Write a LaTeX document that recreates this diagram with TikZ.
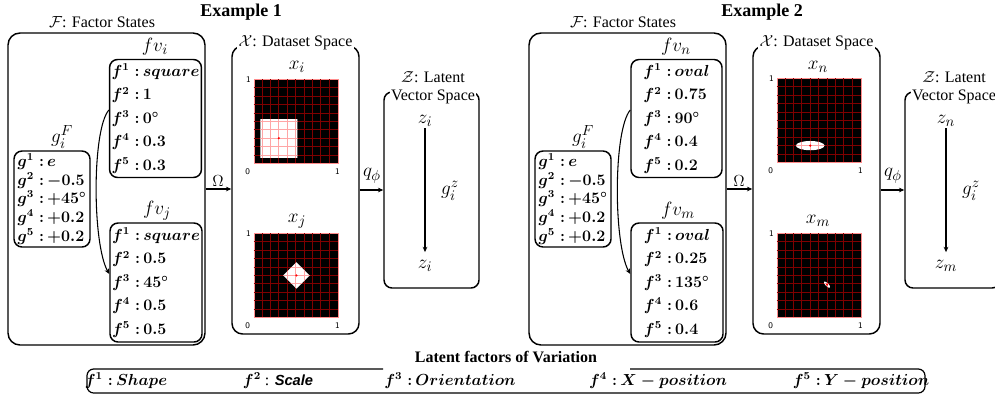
\documentclass[tikz,border=0pt]{standalone}
\usepackage{amsmath,bm}
\usepackage[no-math]{fontspec}
\setmainfont{Liberation Serif}
\newfontfamily\sansbi{Liberation Sans}
\usetikzlibrary{calc,arrows.meta}
\newcommand{\pxu}{0.75pt}
\newcommand{\fent}[2]{{\boldmath$f^{#1}\;{:}\,#2$}}
\newcommand{\gent}[2]{{\boldmath$g^{#1}\;{:}\,#2$}}
\newcommand{\gridlines}[1]{%
  \foreach \k in {0.1,0.2,0.3,0.4,0.5,0.6,0.7,0.8,0.9} {%
    \draw[#1] (\k,0) -- (\k,1);
    \draw[#1] (0,\k) -- (1,\k);}}
\tikzset{
  outer/.style={draw, line width=1.1pt, rounded corners=9pt, inner sep=0pt},
  vbox/.style={draw, line width=1.1pt, rounded corners=6pt, inner sep=1.5pt, align=left,
    font=\fontsize{12}{17.6}\selectfont},
  gbox/.style={draw, line width=1.1pt, rounded corners=6pt, inner sep=0.5pt, align=left,
    font=\fontsize{11.5}{14}\selectfont},
  title/.style={font=\fontsize{12}{14}\selectfont, fill=white, inner sep=1pt},
  lbl/.style={font=\fontsize{15}{17}\selectfont, inner sep=1pt},
  arr/.style={-{Stealth[length=4pt,width=3.5pt]}, line width=0.8pt},
  imgbox/.style={minimum size=63pt, fill=black, draw=red!45, line width=0.6pt, inner sep=0pt},
  darkgrid/.style={draw=red!50!black, line width=0.65pt},
  pinkgrid/.style={draw=red!35, line width=0.65pt},
  axl/.style={font=\sffamily\fontsize{6.5}{7}\selectfont, inner sep=0.5pt},
  leg/.style={font=\fontsize{12}{14}\selectfont, inner sep=1pt}
}
\begin{document}
\begin{tikzpicture}[x=0.75pt,y=-0.75pt]
\useasboundingbox (0,0) rectangle (995,400);
\clip (0,0) rectangle (995,400);

% ================= Example 1 =================
\node[font=\bfseries\fontsize{13.5}{15}\selectfont] (ex1) at (241,12) {Example 1};
\node[title] (Ft1) at (102,22) {$\mathcal{F}$: Factor States};
\node[outer, minimum width=197*\pxu, minimum height=312*\pxu] (F1) at (106.5,189) {};
\node[lbl] (fvil) at (155,47) {$fv_i$};
\node[vbox, minimum width=91*\pxu, minimum height=118*\pxu] (fvi) at (155.5,118.5)
  {\fent{1}{square}\\ \fent{2}{1}\\ \fent{3}{0^\circ}\\ \fent{4}{0.3}\\ \fent{5}{0.3}};
\node[lbl] (fvjl) at (157,211) {$fv_j$};
\node[vbox, minimum width=92*\pxu, minimum height=119*\pxu] (fvj) at (156,282.5)
  {\fent{1}{square}\\ \fent{2}{0.5}\\ \fent{3}{45^\circ}\\ \fent{4}{0.5}\\ \fent{5}{0.5}};
\node[lbl] (gl1) at (62,137) {$g_i^F$};
\node[gbox, minimum width=76*\pxu, minimum height=96*\pxu] (g1) at (52,199)
  {\gent{1}{e}\\ \gent{2}{{-}0.5}\\ \gent{3}{{+}45^\circ}\\ \gent{4}{{+}0.2}\\ \gent{5}{{+}0.2}};
\draw[arr] ($(fvi.west)+(0,-8.5)$) .. controls +(-17,20) and +(-17,-30) .. ($(fvj.west)+(0,-8.5)$);

\node[outer, rounded corners=8pt, minimum width=127*\pxu, minimum height=288*\pxu] (X1) at (295.5,190) {};
\node[title] (Xt1) at (295.5,43) {$\mathcal{X}$: Dataset Space};
\draw[arr] (F1.east) -- (F1.east -| X1.west);
\node[lbl, font=\fontsize{12}{14}\selectfont] (om1) at (218,181) {$\Omega$};

\node[lbl] (xil) at (297,67) {$x_i$};
\node[imgbox] (xi) at (296,121) {};
\begin{scope}[shift={(xi.south west)}, x=63pt, y=63pt]
  \gridlines{darkgrid}
  \begin{scope}
    \clip (0.08,0.07) rectangle (0.52,0.52);
    \fill[white] (0,0) rectangle (1,1);
    \gridlines{pinkgrid}
  \end{scope}
  \fill[red] (0.3,0.3) circle (0.9pt);
\end{scope}
\node[axl, anchor=east] (xia) at ($(xi.north west)+(-2,1)$) {1};
\node[axl] (xib) at ($(xi.south west)+(-6,8)$) {0};
\node[axl] (xic) at ($(xi.south east)+(-1,8)$) {1};

\node[lbl] (xjl) at (297,221) {$x_j$};
\node[imgbox] (xj) at (296,275) {};
\begin{scope}[shift={(xj.south west)}, x=63pt, y=63pt]
  \gridlines{darkgrid}
  \begin{scope}
    \clip (0.51,0.343) -- (0.667,0.5) -- (0.51,0.657) -- (0.353,0.5) -- cycle;
    \fill[white] (0,0) rectangle (1,1);
    \gridlines{pinkgrid}
  \end{scope}
  \fill[red] (0.51,0.5) circle (0.9pt);
\end{scope}
\node[axl, anchor=east] (xja) at ($(xj.north west)+(-2,1)$) {1};
\node[axl] (xjb) at ($(xj.south west)+(-6,8)$) {0};
\node[axl] (xjc) at ($(xj.south east)+(-1,8)$) {1};

\node[outer, rounded corners=6pt, minimum width=95*\pxu, minimum height=196*\pxu] (Z1) at (431.5,190) {};
\node[title] (Zt1a) at (433,77) {$\mathcal{Z}$: Latent};
\node[title, inner sep=0.5pt] (Zt1b) at (433,97) {Vector Space};
\draw[arr] (X1.east) -- (X1.east -| Z1.west);
\node[lbl] (q1) at (372,176) {$q_\phi$};
\node[lbl] (zt1) at (425,121) {$z_i$};
\node[lbl] (zb1) at (425,266) {$z_i$};
\draw[arr, shorten >=5pt] (zt1.south) -- (zb1.north);
\node[lbl] (gz1) at (450,191) {$g_i^z$};

% ================= Example 2 =================
\begin{scope}[shift={(521,0)}]
\node[font=\bfseries\fontsize{13.5}{15}\selectfont] (ex2) at (241,12) {Example 2};
\node[title] (Ft2) at (102,22) {$\mathcal{F}$: Factor States};
\node[outer, minimum width=197*\pxu, minimum height=312*\pxu] (F2) at (106.5,189) {};
\node[lbl] (fvnl) at (155,47) {$fv_n$};
\node[vbox, minimum width=91*\pxu, minimum height=118*\pxu] (fvn) at (155.5,118.5)
  {\fent{1}{oval}\\ \fent{2}{0.75}\\ \fent{3}{90^\circ}\\ \fent{4}{0.4}\\ \fent{5}{0.2}};
\node[lbl] (fvml) at (157,211) {$fv_m$};
\node[vbox, minimum width=92*\pxu, minimum height=119*\pxu] (fvm) at (156,282.5)
  {\fent{1}{oval}\\ \fent{2}{0.25}\\ \fent{3}{135^\circ}\\ \fent{4}{0.6}\\ \fent{5}{0.4}};
\node[lbl] (gl2) at (62,137) {$g_i^F$};
\node[gbox, minimum width=76*\pxu, minimum height=96*\pxu] (g2) at (52,199)
  {\gent{1}{e}\\ \gent{2}{{-}0.5}\\ \gent{3}{{+}45^\circ}\\ \gent{4}{{+}0.2}\\ \gent{5}{{+}0.2}};
\draw[arr] ($(fvn.west)+(0,-8.5)$) .. controls +(-17,20) and +(-17,-30) .. ($(fvm.west)+(0,-8.5)$);

\node[outer, rounded corners=8pt, minimum width=127*\pxu, minimum height=288*\pxu] (X2) at (295.5,190) {};
\node[title] (Xt2) at (295.5,43) {$\mathcal{X}$: Dataset Space};
\draw[arr] (F2.east) -- (F2.east -| X2.west);
\node[lbl, font=\fontsize{12}{14}\selectfont] (om2) at (218,181) {$\Omega$};

\node[lbl] (xnl) at (297,67) {$x_n$};
\node[imgbox] (xn) at (298,120) {};
\begin{scope}[shift={(xn.south west)}, x=63pt, y=63pt]
  \gridlines{darkgrid}
  \begin{scope}
    \clip (0.4,0.2) ellipse (0.17 and 0.055);
    \fill[white] (0,0) rectangle (1,1);
    \gridlines{pinkgrid}
  \end{scope}
  \fill[red] (0.4,0.2) circle (0.9pt);
\end{scope}
\node[axl, anchor=east] (xna) at ($(xn.north west)+(-2,1)$) {1};
\node[axl] (xnb) at ($(xn.south west)+(-6,8)$) {0};
\node[axl] (xnc) at ($(xn.south east)+(-1,8)$) {1};

\node[lbl] (xml) at (297,221) {$x_m$};
\node[imgbox] (xm) at (298,275) {};
\begin{scope}[shift={(xm.south west)}, x=63pt, y=63pt]
  \gridlines{darkgrid}
  \begin{scope}
    \clip[rotate around={-45:(0.6,0.39)}] (0.6,0.39) ellipse (0.05 and 0.018);
    \fill[white] (0,0) rectangle (1,1);
    \gridlines{pinkgrid}
  \end{scope}
  \fill[red] (0.6,0.39) circle (0.9pt);
\end{scope}
\node[axl, anchor=east] (xma) at ($(xm.north west)+(-2,1)$) {1};
\node[axl] (xmb) at ($(xm.south west)+(-6,8)$) {0};
\node[axl] (xmc) at ($(xm.south east)+(-1,8)$) {1};

\node[outer, rounded corners=6pt, minimum width=95*\pxu, minimum height=196*\pxu] (Z2) at (431.5,190) {};
\node[title] (Zt2a) at (433,77) {$\mathcal{Z}$: Latent};
\node[title, inner sep=0.5pt] (Zt2b) at (433,97) {Vector Space};
\draw[arr] (X2.east) -- (X2.east -| Z2.west);
\node[lbl] (q2) at (372,176) {$q_\phi$};
\node[lbl] (zt2) at (425,121) {$z_n$};
\node[lbl] (zb2) at (425,266) {$z_m$};
\draw[arr, shorten >=5pt] (zt2.south) -- (zb2.north);
\node[lbl] (gz2) at (450,191) {$g_i^z$};
\end{scope}

% ================= Legend =================
\node[font=\bfseries\fontsize{12}{14}\selectfont] (legt) at (506,357) {Latent factors of Variation};
\draw[line width=0.9pt, rounded corners=5pt] (383,369) -- (87,369) -- (87,393) -- (925,393) -- (925,369) -- (630,369);
\node[leg] (l1) at (126,381) {{\boldmath$f^1\;{:}\,Shape$}};
\node[leg] (l2) at (278,381) {{\boldmath$f^2$} : {\sansbi\bfseries\itshape\fontsize{11}{13}\selectfont Scale}};
\node[leg] (l3) at (450,381) {{\boldmath$f^3\;{:}\,Orientation$}};
\node[leg] (l4) at (658,381) {{\boldmath$f^4\;{:}\,X-position$}};
\node[leg] (l5) at (861,381) {{\boldmath$f^5\;{:}\,Y-position$}};
\end{tikzpicture}
\end{document}
